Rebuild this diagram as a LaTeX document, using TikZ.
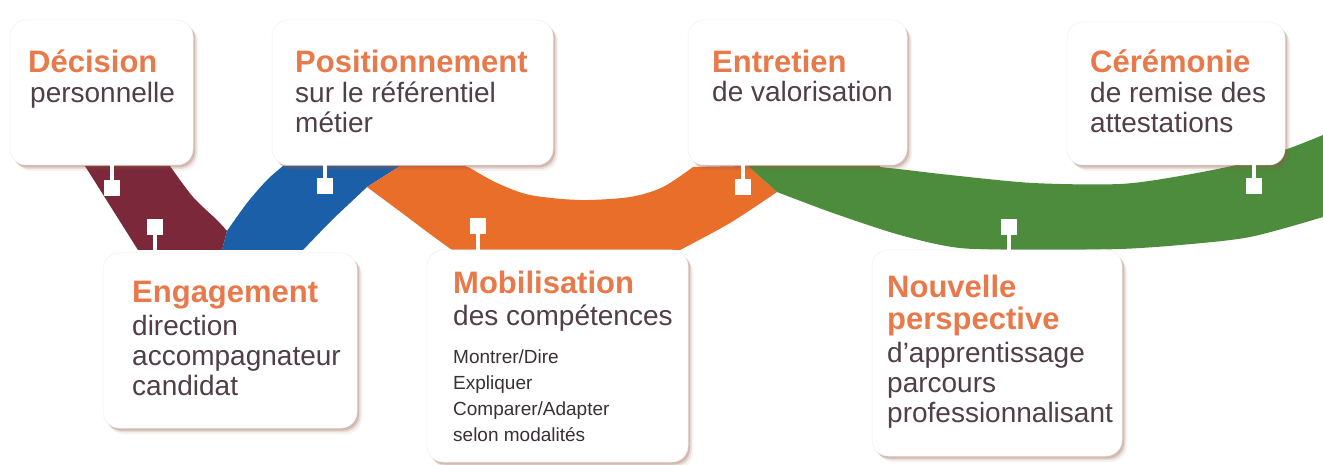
\documentclass[tikz,border=0pt]{standalone}
\usepackage{fontspec}
\setmainfont{Liberation Sans}
\usetikzlibrary{shadows}
\definecolor{titlec}{RGB}{232,121,74}
\definecolor{bodyc}{RGB}{80,62,72}
\definecolor{smallc}{RGB}{58,48,54}
\definecolor{maroonc}{RGB}{122,40,58}
\definecolor{bluec}{RGB}{26,95,168}
\definecolor{orangec}{RGB}{232,110,42}
\definecolor{greenc}{RGB}{76,140,60}
\definecolor{shc}{RGB}{150,90,70}
\begin{document}
\begin{tikzpicture}[x=1pt,y=-1pt,
  card/.style={rounded corners=16pt, fill=white, draw=black!6, line width=0.5pt,
    inner sep=0pt, outer sep=0pt, anchor=north west,
    general shadow={fill=shc, opacity=0.08, shadow xshift=5pt, shadow yshift=-6pt},
    general shadow={fill=shc, opacity=0.15, shadow xshift=3.5pt, shadow yshift=-4pt},
    general shadow={fill=shc, opacity=0.25, shadow xshift=2pt, shadow yshift=-2.5pt}},
  ttl/.style={anchor=base west, inner sep=0pt, text=titlec, font=\fontsize{31}{30.5}\selectfont\bfseries},
  bdy/.style={anchor=base west, inner sep=0pt, text=bodyc, font=\fontsize{28}{30}\selectfont},
  sml/.style={anchor=base west, inner sep=0pt, text=smallc, font=\fontsize{19}{26.3}\selectfont},
  sq/.style={fill=white, minimum size=16pt, inner sep=0pt},
  stem/.style={draw=white, line width=4pt}]
\useasboundingbox (0,0) rectangle (1323,465);
\fill[white] (0,0) rectangle (1323,465);

% ribbon
\fill[maroonc] (85,166) -- (138,250) -- (222,250)
  -- plot[smooth] coordinates {(227,231) (217,220) (193,197) (170,166)} -- cycle;
\fill[bluec] (222,250)
  -- plot[smooth] coordinates {(227,231) (247,203) (267,180) (283,166)}
  -- (400,166) -- (367,187)
  -- plot[smooth] coordinates {(367,187) (350,203) (330,222) (303,250)} -- cycle;
\fill[orangec] (400,166) -- (465,166)
  -- plot[smooth] coordinates {(470,168) (497,183) (530,195) (580,200) (630,197) (663,187) (693,167)}
  -- (748,166) -- (777,192)
  -- plot[smooth] coordinates {(777,192) (730,223) (680,250)}
  -- (452,250)
  -- plot[smooth] coordinates {(452,250) (430,234) (398,210) (367,187)} -- cycle;
\fill[greenc] (748,166) -- (880,166)
  -- plot[smooth] coordinates {(880,167) (907,170) (950,175) (1033,183) (1120,184) (1180,176) (1240,164) (1290,148) (1323,135)}
  -- (1323,217)
  -- plot[smooth] coordinates {(1323,217) (1250,237) (1180,245) (1120,249) (1040,250) (960,248) (900,235) (833,213) (777,192)} -- cycle;

% cards
\node[card, minimum width=183pt, minimum height=145pt] (dec) at (10,20) {};
\node[card, minimum width=281pt, minimum height=145pt] (pos) at (272,20) {};
\node[card, minimum width=219pt, minimum height=145pt] (ent) at (688,20) {};
\node[card, minimum width=218pt, minimum height=143pt] (cer) at (1067,22) {};
\node[card, minimum width=254pt, minimum height=175pt] (eng) at (103,253) {};
\node[card, minimum width=261pt, minimum height=212pt] (mob) at (427,250) {};
\node[card, minimum width=250pt, minimum height=206pt] (nou) at (872,250) {};

% texts
\node[ttl] (t1) at (28,73) {Décision};
\node[bdy] (b1) at (30,103) {personnelle};
\node[ttl] (t2) at (295,73) {Positionnement};
\node[bdy] (b2) at (295,103) {\begin{tabular}[t]{@{}l@{}}sur le référentiel\\ métier\end{tabular}};
\node[ttl] (t3) at (712,73) {Entretien};
\node[bdy] (b3) at (712,102) {de valorisation};
\node[ttl] (t4) at (1090,73) {Cérémonie};
\node[bdy] (b4) at (1090,103) {\begin{tabular}[t]{@{}l@{}}de remise des\\ attestations\end{tabular}};
\node[ttl] (t5) at (132,302) {Engagement};
\node[bdy] (b5) at (132,335) {\begin{tabular}[t]{@{}l@{}}direction\\ accompagnateur\\ candidat\end{tabular}};
\node[ttl] (t6) at (453,294) {Mobilisation};
\node[bdy] (b6) at (453,325) {des compétences};
\node[sml] (s6) at (453,363) {\begin{tabular}[t]{@{}l@{}}Montrer/Dire\\ Expliquer\\ Comparer/Adapter\\ selon modalités\end{tabular}};
\node[ttl] (t7) at (887,298) {\begin{tabular}[t]{@{}l@{}}Nouvelle\\ perspective\end{tabular}};
\node[bdy] (b7) at (887,362) {\begin{tabular}[t]{@{}l@{}}d'apprentissage\\ parcours\\ professionnalisant\end{tabular}};

% connectors
\node[sq] (q1) at (112,188) {};
\node[sq] (q2) at (155,227) {};
\node[sq] (q3) at (325,186) {};
\node[sq] (q4) at (478,226) {};
\node[sq] (q5) at (743,187) {};
\node[sq] (q6) at (1009,227) {};
\node[sq] (q7) at (1254,186) {};
\draw[stem] (q1) -- ([yshift=3pt]q1 |- dec.south);
\draw[stem] (q3) -- ([yshift=3pt]q3 |- pos.south);
\draw[stem] (q5) -- ([yshift=3pt]q5 |- ent.south);
\draw[stem] (q7) -- ([yshift=3pt]q7 |- cer.south);
\draw[stem] (q2) -- ([yshift=-3pt]q2 |- eng.north);
\draw[stem] (q4) -- ([yshift=-3pt]q4 |- mob.north);
\draw[stem] (q6) -- ([yshift=-3pt]q6 |- nou.north);
\end{tikzpicture}
\end{document}
